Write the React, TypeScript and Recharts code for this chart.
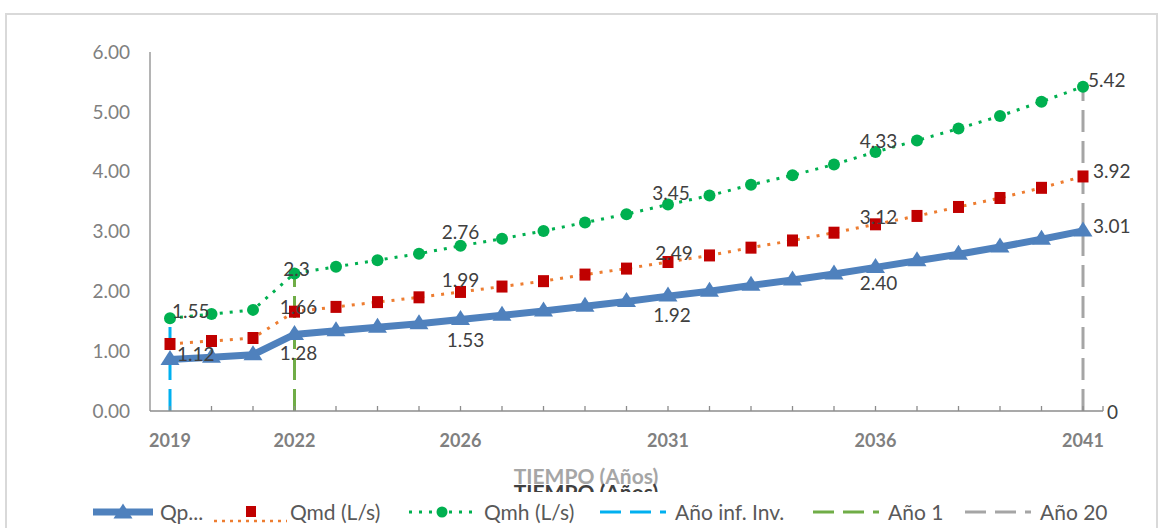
import { LineChart, Line, XAxis, YAxis, ReferenceLine, Legend, LabelList } from "recharts";

// Años del periodo de diseño
const years = [
  "2019", "2020", "2021", "2022", "2023", "2024", "2025", "2026", "2027", "2028", "2029", "2030",
  "2031", "2032", "2033", "2034", "2035", "2036", "2037", "2038", "2039", "2040", "2041",
];

// Caudal promedio (L/s)
const qp = [
  0.86, 0.9, 0.94, 1.28, 1.34, 1.4, 1.46, 1.53, 1.6, 1.67, 1.75, 1.83,
  1.92, 2.0, 2.1, 2.19, 2.29, 2.4, 2.51, 2.62, 2.74, 2.87, 3.01,
];

// Caudal máximo diario (L/s)
const qmd = [
  1.12, 1.17, 1.22, 1.66, 1.74, 1.82, 1.9, 1.99, 2.08, 2.17, 2.28, 2.38,
  2.49, 2.6, 2.73, 2.85, 2.98, 3.12, 3.26, 3.41, 3.56, 3.73, 3.92,
];

// Caudal máximo horario (L/s)
const qmh = [
  1.55, 1.62, 1.69, 2.3, 2.41, 2.52, 2.63, 2.76, 2.88, 3.01, 3.15, 3.29,
  3.45, 3.6, 3.78, 3.94, 4.12, 4.33, 4.52, 4.72, 4.93, 5.17, 5.42,
];

const yTicks = [0, 1, 2, 3, 4, 5, 6];
const shownYears = ["2019", "2022", "2026", "2031", "2036", "2041"];
const rightAxisLabel = "0";

// líneas verticales de referencia
const markerYears = ["2019", "2022", "2041"];
const markerNames = ["Año inf. Inv.", "Año 1", "Año 20"];
const markerColors = ["#00B0F0", "#70AD47", "#A5A5A5"];

const seriesNames = ["Qp...", "Qmd (L/s)", "Qmh (L/s)"];

const data = years.map((year, i) => ({ year, qp: qp[i], qmd: qmd[i], qmh: qmh[i] }));

type Place = { anchor: "start" | "middle"; dx: number; dy: number };

const qmhPlace: Record<string, Place> = {
  "2019": { anchor: "start", dx: 2, dy: -8 },
  "2022": { anchor: "middle", dx: 2, dy: -5 },
  "2026": { anchor: "middle", dx: 0, dy: -14 },
  "2031": { anchor: "middle", dx: 3, dy: -12 },
  "2036": { anchor: "middle", dx: 3, dy: -11 },
  "2041": { anchor: "start", dx: 5, dy: -7 },
};
const qmdPlace: Record<string, Place> = {
  "2019": { anchor: "start", dx: 7, dy: 10 },
  "2022": { anchor: "middle", dx: 4, dy: -5 },
  "2026": { anchor: "middle", dx: 0, dy: -12 },
  "2031": { anchor: "middle", dx: 6, dy: -10 },
  "2036": { anchor: "middle", dx: 3, dy: -8 },
  "2041": { anchor: "start", dx: 10, dy: -6 },
};
const qpPlace: Record<string, Place> = {
  "2022": { anchor: "middle", dx: 4, dy: 18 },
  "2026": { anchor: "middle", dx: 5, dy: 20 },
  "2031": { anchor: "middle", dx: 4, dy: 18 },
  "2036": { anchor: "middle", dx: 3, dy: 15 },
  "2041": { anchor: "start", dx: 10, dy: -5 },
};

const FONT = "Lato, 'Open Sans', sans-serif";
const BLUE = "#4F81BD";
const RED = "#C00000";
const ORANGE = "#ED7D31";
const GREEN = "#00B050";
const AXIS = "#8c8c8c";

const makeLabel = (place: Record<string, Place>, fmt: (v: number) => string) => (props: any) => {
  const { x, y, value, index } = props;
  const p = place[years[index]];
  if (!p) return null;
  return (
    <text
      x={x + p.dx}
      y={y + p.dy}
      textAnchor={p.anchor}
      dominantBaseline="central"
      fontFamily={FONT}
      fontSize={19}
      fill="#404040"
    >
      {fmt(Number(value))}
    </text>
  );
};

const Triangle = ({ cx, cy, fill }: any) => (
  <path d={`M${cx},${cy - 9.5}L${cx + 9.5},${cy + 5.5}L${cx - 9.5},${cy + 5.5}Z`} fill={fill} />
);

// ticks hacia dentro; el último lleva también el fin del eje y el "0" del eje secundario
const XTick = (props: any) => {
  const { x, y, payload, index } = props;
  const last = index === years.length - 1;
  return (
    <g>
      <line x1={x} x2={x} y1={y} y2={y - 5} stroke={AXIS} strokeWidth={1.3} />
      {last && <line x1={x + 20} x2={x + 20} y1={y} y2={y - 5} stroke={AXIS} strokeWidth={1.3} />}
      {last && (
        <text x={x + 24} y={y} dominantBaseline="central" fontFamily={FONT} fontSize={19} fill="#404040">
          {rightAxisLabel}
        </text>
      )}
      {shownYears.includes(payload.value) && (
        <text x={x} y={y + 36} textAnchor="middle" fontFamily={FONT} fontSize={18} fontWeight={700} fill="#808080">
          {payload.value}
        </text>
      )}
    </g>
  );
};

const LegendBox = () => {
  const top = 455;
  const ty = 520 - top;
  const iy = 512 - top;
  const txt = { fontFamily: FONT, fontSize: 21, fill: "#595959" };
  return (
    <svg width={1159} height={73} style={{ display: "block" }}>
      <defs>
        <clipPath id="titleClip">
          <rect x={0} y={0} width={1159} height={492 - top} />
        </clipPath>
      </defs>
      <text x={586} y={484 - top} textAnchor="middle" fontFamily={FONT} fontSize={21} fontWeight={700} fill="#a6a6a6">
        TIEMPO (Años)
      </text>
      <text x={586} y={500 - top} textAnchor="middle" fontFamily={FONT} fontSize={21} fontWeight={700} fill="#404040" clipPath="url(#titleClip)">
        TIEMPO (Años)
      </text>

      <line x1={93} x2={153} y1={iy} y2={iy} stroke={BLUE} strokeWidth={7} />
      <Triangle cx={123} cy={iy + 1} fill={BLUE} />
      <text x={160} y={ty} {...txt}>{seriesNames[0]}</text>

      <line x1={214} x2={287} y1={521 - top} y2={521 - top} stroke={ORANGE} strokeWidth={2.5} strokeDasharray="3 5" />
      <rect x={246} y={iy - 6} width={10} height={11} fill={RED} />
      <text x={290} y={ty} {...txt}>{seriesNames[1]}</text>

      <line x1={409} x2={476} y1={iy} y2={iy} stroke={GREEN} strokeWidth={3} strokeDasharray="3 7" />
      <circle cx={442} cy={iy} r={5.5} fill={GREEN} />
      <text x={484} y={ty} {...txt}>{seriesNames[2]}</text>

      {[600, 813, 965].map((x0, i) => (
        <g key={markerNames[i]}>
          <line x1={x0} x2={x0 + 66} y1={iy} y2={iy} stroke={markerColors[i]} strokeWidth={3} strokeDasharray="21 9" />
          <text x={[675, 888, 1040][i]} y={ty} {...txt}>{markerNames[i]}</text>
        </g>
      ))}
    </svg>
  );
};

export default function App() {
  return (
    <div style={{ position: "absolute", left: 0, top: 0, width: 1159, height: 528, overflow: "hidden", background: "#fff" }}>
      <div
        style={{
          position: "absolute",
          left: 5,
          top: 13,
          width: 1153,
          height: 540,
          boxSizing: "border-box",
          border: "2px solid #d9d9d9",
        }}
      />
      <LineChart width={1159} height={528} data={data} margin={{ top: 52, right: 56, bottom: 0, left: 0 }}>
        <XAxis
          dataKey="year"
          type="category"
          padding={{ left: 20, right: 20 }}
          height={117}
          interval={0}
          tickSize={0}
          tickMargin={0}
          tickLine={false}
          axisLine={{ stroke: AXIS, strokeWidth: 1.3 }}
          tick={<XTick />}
        />
        <YAxis
          yAxisId="left"
          width={150}
          domain={[0, 6]}
          ticks={yTicks}
          interval={0}
          tickFormatter={(v: number) => v.toFixed(2)}
          tickSize={0}
          tickMargin={20}
          tickLine={false}
          axisLine={{ stroke: AXIS, strokeWidth: 1.3 }}
          tick={{ fontFamily: FONT, fontSize: 19, fill: "#808080" }}
        />
        {markerYears.map((yr, i) => (
          <ReferenceLine
            key={yr}
            yAxisId="left"
            segment={[
              { x: yr, y: 0 },
              { x: yr, y: qmh[years.indexOf(yr)] },
            ]}
            stroke={markerColors[i]}
            strokeWidth={3}
            strokeDasharray="22 9"
          />
        ))}
        <Line
          yAxisId="left"
          dataKey="qp"
          name={seriesNames[0]}
          stroke={BLUE}
          strokeWidth={7}
          isAnimationActive={false}
          dot={(p: any) => <Triangle key={`t${p.index}`} cx={p.cx} cy={p.cy} fill={BLUE} />}
          activeDot={false}
        >
          <LabelList dataKey="qp" content={makeLabel(qpPlace, (v) => v.toFixed(2))} />
        </Line>
        <Line
          yAxisId="left"
          dataKey="qmd"
          name={seriesNames[1]}
          stroke={ORANGE}
          strokeWidth={3}
          strokeDasharray="3 7"
          isAnimationActive={false}
          dot={(p: any) => <rect key={`r${p.index}`} x={p.cx - 5.5} y={p.cy - 6} width={11} height={12} fill={RED} />}
          activeDot={false}
        >
          <LabelList dataKey="qmd" content={makeLabel(qmdPlace, (v) => String(v))} />
        </Line>
        <Line
          yAxisId="left"
          dataKey="qmh"
          name={seriesNames[2]}
          stroke={GREEN}
          strokeWidth={3}
          strokeDasharray="3 7"
          isAnimationActive={false}
          dot={(p: any) => <circle key={`c${p.index}`} cx={p.cx} cy={p.cy} r={6} fill={GREEN} />}
          activeDot={false}
        >
          <LabelList dataKey="qmh" content={makeLabel(qmhPlace, (v) => String(v))} />
        </Line>
        <Legend
          layout="horizontal"
          verticalAlign="middle"
          align="center"
          content={<LegendBox />}
          wrapperStyle={{ left: 0, top: 455, width: 1159, height: 73 }}
        />
      </LineChart>
    </div>
  );
}
